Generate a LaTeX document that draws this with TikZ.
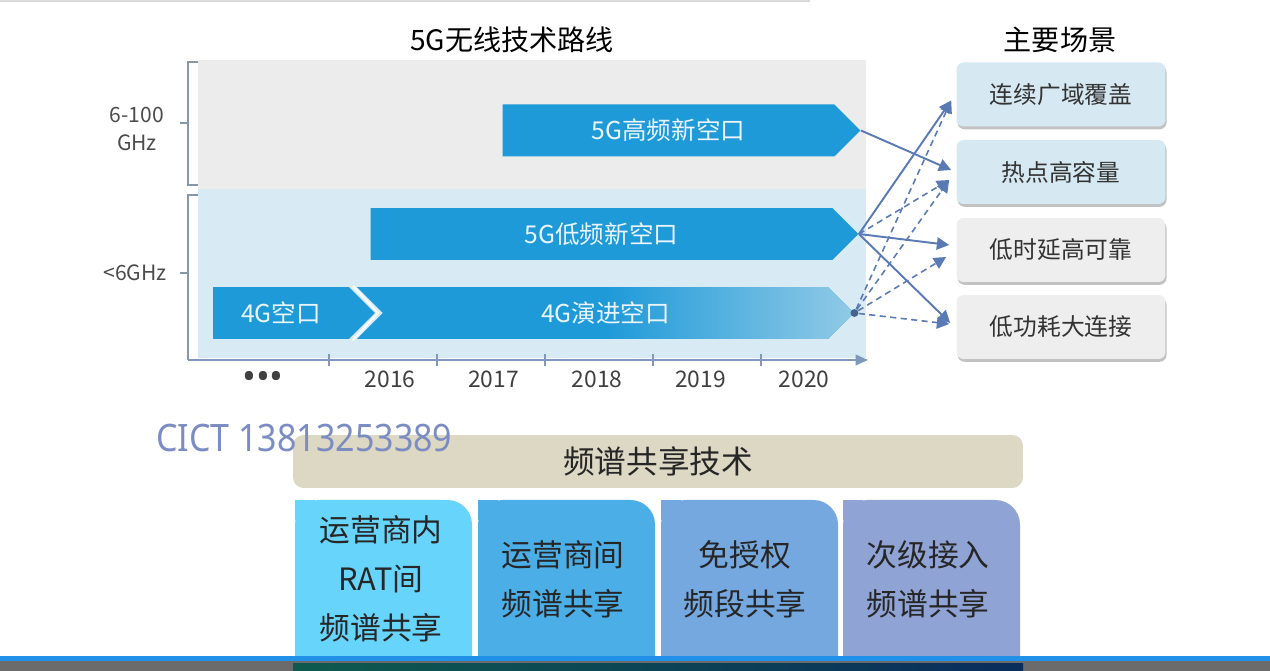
\documentclass[tikz,border=0pt]{standalone}
\usepackage{fontspec}
\setmainfont{Noto Sans CJK SC}
\newfontfamily\markfont[FakeStretch=0.9]{Noto Sans}
\newfontfamily\latinfont{Noto Sans}
\usepackage{xcolor}
\definecolor{RouteBlue}{HTML}{1E9AD9}
\definecolor{FadeBlue}{HTML}{C4DFEC}
\definecolor{PanelGray}{HTML}{ECECEC}
\definecolor{PanelBlue}{HTML}{D8EAF3}
\definecolor{BraceGray}{HTML}{8598A8}
\definecolor{AxisBlue}{HTML}{7E98BE}
\definecolor{LinkBlue}{HTML}{5A7AB4}
\definecolor{SceneBlue}{HTML}{D6E8F2}
\definecolor{SceneGray}{HTML}{EEEEEE}
\definecolor{BannerSand}{HTML}{DCD8C4}
\definecolor{ShareA}{HTML}{66D4FB}
\definecolor{ShareB}{HTML}{4BAEE6}
\definecolor{ShareC}{HTML}{75A8DF}
\definecolor{ShareD}{HTML}{90A3D5}
\definecolor{MarkBlue}{HTML}{7B8CC2}
\definecolor{EdgeBlue}{HTML}{2090E8}
\definecolor{ScreenGray}{HTML}{6B6B6B}
\definecolor{DeepTeal}{HTML}{0E5A4F}
\definecolor{DeepNavy}{HTML}{0A2D5C}
\usepackage{tikz}
\usetikzlibrary{calc, arrows.meta, shapes.symbols, shadows}
\pgfdeclarehorizontalshading{evofade}{100bp}{color(0bp)=(RouteBlue); color(50bp)=(RouteBlue); color(86bp)=(FadeBlue); color(100bp)=(FadeBlue)}

\begin{document}
\begin{tikzpicture}[x=0.02cm, y=-0.02cm]
  \tikzset{
    band/.style={signal, signal to=east, signal pointer angle=90, fill=RouteBlue,
      text=white!90!RouteBlue, font=\fontsize{14}{16}\selectfont, inner sep=0pt,
      minimum height=1.04cm},
    scene/.style={rounded corners=4pt, minimum width=4.18cm, minimum height=1.28cm,
      font=\fontsize{13.5}{16}\selectfont, text=black!80,
      drop shadow={shadow xshift=0.6pt, shadow yshift=-1.6pt, fill=black!40, opacity=0.6}},
    link/.style={-{Triangle[length=7pt, width=7pt]}, LinkBlue, line width=1.1pt},
    maybe/.style={link, line width=0.9pt, dash pattern=on 3.5pt off 2.5pt},
    brace/.style={BraceGray, line width=0.8pt},
    year/.style={font=\fontsize{13}{15}\selectfont, text=black!75},
    share/.style={align=center, font=\fontsize{17.5}{27.8}\selectfont, text=black!85},
  }
  \useasboundingbox (0,0) rectangle (1270,671);
  \draw[black!15, line width=1pt] (0,1) -- (810,1);

  % titles
  \node[font=\fontsize{16}{18}\selectfont] (roadtitle) at (512,40) {5G无线技术路线};
  \node[font=\fontsize{16}{18}\selectfont] (scenetitle) at (1060,40) {主要场景};

  % frequency panels
  \fill[PanelGray] (198,60) rectangle (866,189);
  \fill[PanelBlue] (198,189) rectangle (866,358);
  \draw[brace] (198,62) -- (188,62) -- (188,185) -- (198,185);
  \draw[brace] (188,123) -- (180,123);
  \draw[brace] (198,195) -- (188,195) -- (188,360);
  \draw[brace] (188,273) -- (180,273);
  \node[align=center, text=black!70, font=\fontsize{12}{15.9}\selectfont] (high) at (137,129) {6-100\\GHz};
  \node[text=black!70, font=\fontsize{12}{14}\selectfont] (low) at (135,273) {<6GHz};

  % time axis
  \draw[AxisBlue, line width=1.1pt, -{Triangle[length=7pt, width=6pt]}] (188,360) -- (868,360);
  \foreach \x in {329,437,545,653,761}
    \draw[AxisBlue, line width=1pt] (\x,354) -- (\x,366);
  \node[year, font=\latinfont\bfseries\fontsize{21}{24}\selectfont] (dots) at (263,380) {•••};
  \foreach \yr [count=\i] in {2016,2017,2018,2019,2020}
    \node[year] (y\yr) at ({390+103.5*(\i-1)},379) {\yr};

  % air interfaces
  \node[band, minimum width=7.16cm] (hf) at (668.5,130.5) {5G高频新空口};
  \node[band, minimum width=9.76cm] (lf) at (601.5,234) {5G低频新空口};
  \node[band, signal from=west, shading=evofade, minimum width=9.94cm] (evo) at (605.5,313) {4G演进空口};
  \node[band, minimum width=3.24cm] (lte) at (281,313) {4G空口};
  \draw[white!80!PanelBlue, line width=1.3pt] (353,286) -- (378,313) -- (353,340);
  \node[circle, fill=LinkBlue!80!black, inner sep=0pt, minimum size=4.5pt] (tail) at (evo.east) {};

  % scenarios
  \node[scene, fill=SceneBlue] (s1) at (1061,94.5) {连续广域覆盖};
  \node[scene, fill=SceneBlue] (s2) at (1061,172) {热点高容量};
  \node[scene, fill=SceneGray] (s3) at (1061,250) {低时延高可靠};
  \node[scene, fill=SceneGray] (s4) at (1061,327) {低功耗大连接};

  % mapping
  \draw[link] (hf.east) -- ($(s2.west)+(-5,-2)$);
  \draw[link] (lf.east) -- ($(s1.west)+(-5,6)$);
  \draw[link] (lf.east) -- ($(s3.west)+(-7,-5)$);
  \draw[link] (lf.east) -- ($(s4.west)+(-6,-4)$);
  \draw[maybe] (lf.east) -- ($(s2.west)+(-7,8)$);
  \draw[maybe] (tail) -- ($(s1.west)+(-5,6)$);
  \draw[maybe] (tail) -- ($(s2.west)+(-7,8)$);
  \draw[maybe] (tail) -- ($(s3.west)+(-10,7)$);
  \draw[maybe] (tail) -- ($(s4.west)+(-7,-3)$);

  % spectrum sharing
  \node[fill=BannerSand, rounded corners=6pt, minimum width=14.6cm, minimum height=1.06cm,
    font=\fontsize{18}{20}\selectfont, text=black!85] (share) at (658,461.5) {频谱共享技术};
  \fill[ShareA, rounded corners=14pt] (295,500) rectangle (472,700);
  \fill[ShareA] (295,500) rectangle (315,520);
  \fill[ShareB, rounded corners=14pt] (478,500) rectangle (655,700);
  \fill[ShareB] (478,500) rectangle (498,520);
  \fill[ShareC, rounded corners=14pt] (661,500) rectangle (838,700);
  \fill[ShareC] (661,500) rectangle (681,520);
  \fill[ShareD, rounded corners=14pt] (843,500) rectangle (1020,700);
  \fill[ShareD] (843,500) rectangle (863,520);
  \node[share] (intra) at (381,579) {运营商内\\RAT间\\频谱共享};
  \node[share] (inter) at (563,579) {运营商间\\频谱共享};
  \node[share] (free) at (745,579) {免授权\\频段共享};
  \node[share] (second) at (928,579) {次级接入\\频谱共享};

  % watermark
  \node[anchor=west, text=MarkBlue, font=\markfont\fontsize{21.5}{24}\selectfont] (mark) at (150,438) {CICT 13813253389};

  % screen edge
  \fill[EdgeBlue] (0,656) rectangle (1270,661);
  \fill[ScreenGray] (0,661) rectangle (1270,671);
  \shade[left color=DeepTeal, right color=DeepNavy] (293,663) rectangle (1023,671);
\end{tikzpicture}
\end{document}
